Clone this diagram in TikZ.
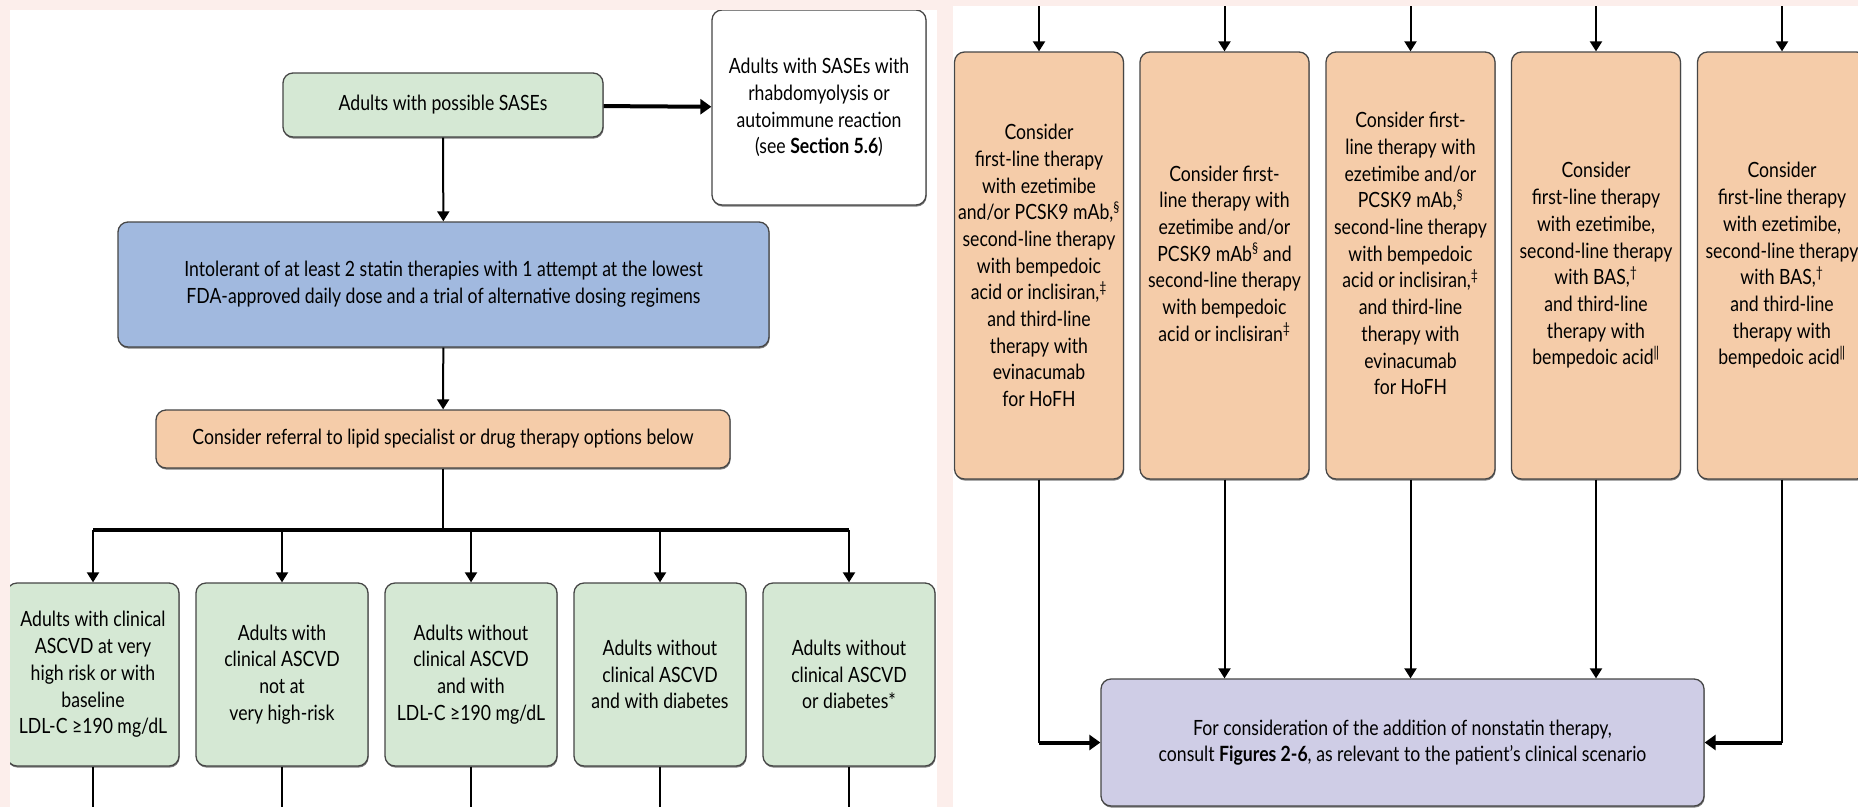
\documentclass[tikz,border=0pt]{standalone}
\usepackage{fontspec}
\setmainfont{Lato}[FakeStretch=0.84]
\usetikzlibrary{arrows.meta,shadows}

\definecolor{bgpink}{RGB}{252,238,235}
\definecolor{boxgreen}{RGB}{213,232,212}
\definecolor{boxblue}{RGB}{161,185,223}
\definecolor{boxorange}{RGB}{245,204,169}
\definecolor{boxpurple}{RGB}{207,205,230}
\definecolor{edgegray}{RGB}{70,70,70}

\tikzset{
  x=1pt, y=-1pt,
  box/.style={draw=edgegray, line width=1.3pt, rounded corners=10pt,
    align=center, inner sep=0pt,
    font=\fontsize{21}{26.7}\selectfont,
    drop shadow={shadow xshift=0.6pt, shadow yshift=-1.6pt, opacity=0.5, fill=black}},
  greenbox/.style={box, fill=boxgreen},
  bluebox/.style={box, fill=boxblue},
  orangebox/.style={box, fill=boxorange},
  purplebox/.style={box, fill=boxpurple},
  whitebox/.style={box, fill=white},
  colbox/.style={minimum width=172pt, minimum height=183pt},
  tallbox/.style={orangebox, minimum width=169pt, minimum height=427pt},
  raised/.style={text depth=24pt},
  flow/.style={line width=2pt, -{Triangle[length=10pt,width=12pt]}},
  thickflow/.style={line width=4pt, -{Triangle[length=11pt,width=15pt]}},
  plain/.style={line width=2pt},
  bar/.style={line width=4pt},
}

\begin{document}
\begin{tikzpicture}
\useasboundingbox (0,0) rectangle (1858,807);
% page background and the two white panels
\fill[bgpink] (0,0) rectangle (1858,807);
\fill[white] (10,10) rectangle (937,807);
\fill[white] (953,6) rectangle (1858,807);

% ---------------- left panel ----------------
\begin{scope}
\clip (10,10) rectangle (937,807);
\node[greenbox, minimum width=320pt, minimum height=64pt] (sases) at (443,105)
  {Adults with possible SASEs};
\node[whitebox, minimum width=214pt, minimum height=195pt] (rhabdo) at (819,107.5)
  {Adults with SASEs with\\rhabdomyolysis or\\autoimmune reaction\\(see \textbf{Section 5.6})};
\node[bluebox, minimum width=651pt, minimum height=125pt] (intol) at (443.5,284.5)
  {Intolerant of at least 2 statin therapies with 1 attempt at the lowest\\FDA-approved daily dose and a trial of alternative dosing regimens};
\node[orangebox, minimum width=574pt, minimum height=58pt] (referral) at (443,439)
  {Consider referral to lipid specialist or drug therapy options below};

\node[greenbox, colbox] (g1) at (93,674.5)
  {Adults with clinical\\ASCVD at very\\high risk or with\\baseline\\LDL-C ≥190 mg/dL};
\node[greenbox, colbox] (g2) at (282,674.5)
  {Adults with\\clinical ASCVD\\not at\\very high-risk};
\node[greenbox, colbox] (g3) at (471,674.5)
  {Adults without\\clinical ASCVD\\and with\\LDL-C ≥190 mg/dL};
\node[greenbox, colbox] (g4) at (660,674.5)
  {Adults without\\clinical ASCVD\\and with diabetes};
\node[greenbox, colbox] (g5) at (849,674.5)
  {Adults without\\clinical ASCVD\\or diabetes*};

% split bar under the referral box
\coordinate (split) at (443,530);
\coordinate (barL) at (93,530);
\coordinate (barR) at (849,530);

\draw[thickflow] (sases) -- (rhabdo);
\draw[flow] (sases) -- (intol);
\draw[flow] (intol) -- (referral);
\draw[plain] (referral) -- (split);
\draw[bar] (barL) -- (barR);
\foreach \g in {g1,g2,g3,g4,g5}{
  \draw[flow] (\g |- split) -- (\g);
  \coordinate (\g out) at (\g |- 0,807);
  \draw[plain] (\g) -- (\g out);
}
\end{scope}

% ---------------- right panel ----------------
\begin{scope}
\clip (953,6) rectangle (1858,807);
\node[tallbox] (o1) at (1039,265.5)
  {Consider\\first-line therapy\\with ezetimibe\\and/or PCSK9 mAb,\textsuperscript{§}\\second-line therapy\\with bempedoic\\acid or inclisiran,\textsuperscript{‡}\\and third-line\\therapy with\\evinacumab\\for HoFH};
\node[tallbox, raised] (o2) at (1224.5,265.5)
  {Consider first-\\line therapy with\\ezetimibe and/or\\PCSK9 mAb\textsuperscript{§} and\\second-line therapy\\with bempedoic\\acid or inclisiran\textsuperscript{‡}};
\node[tallbox, raised] (o3) at (1410.5,265.5)
  {Consider first-\\line therapy with\\ezetimibe and/or\\PCSK9 mAb,\textsuperscript{§}\\second-line therapy\\with bempedoic\\acid or inclisiran,\textsuperscript{‡}\\and third-line\\therapy with\\evinacumab\\for HoFH};
\node[tallbox] (o4) at (1596,265.5)
  {Consider\\first-line therapy\\with ezetimibe,\\second-line therapy\\with BAS,\textsuperscript{†}\\and third-line\\therapy with\\bempedoic acid\textsuperscript{|\kern-0.6pt|}};
\node[tallbox] (o5) at (1782,265.5)
  {Consider\\first-line therapy\\with ezetimibe,\\second-line therapy\\with BAS,\textsuperscript{†}\\and third-line\\therapy with\\bempedoic acid\textsuperscript{|\kern-0.6pt|}};

\node[purplebox, minimum width=603pt, minimum height=127pt] (consult) at (1402.5,742.5)
  {For consideration of the addition of nonstatin therapy,\\consult \textbf{Figures 2-6}, as relevant to the patient’s clinical scenario};

\foreach \o in {o1,o2,o3,o4,o5}{
  \coordinate (\o in) at (\o |- 0,6);
  \draw[flow] (\o in) -- (\o);
}
\draw[flow] (o2) -- (o2 |- consult.north);
\draw[flow] (o3) -- (o3 |- consult.north);
\draw[flow] (o4) -- (o4 |- consult.north);

\coordinate (turnL) at (o1 |- consult);
\coordinate (turnR) at (o5 |- consult);
\draw[plain] (o1) -- (turnL);
\draw[thickflow] (turnL) -- (consult);
\draw[plain] (o5) -- (turnR);
\draw[thickflow] (turnR) -- (consult);
\end{scope}
\end{tikzpicture}
\end{document}
